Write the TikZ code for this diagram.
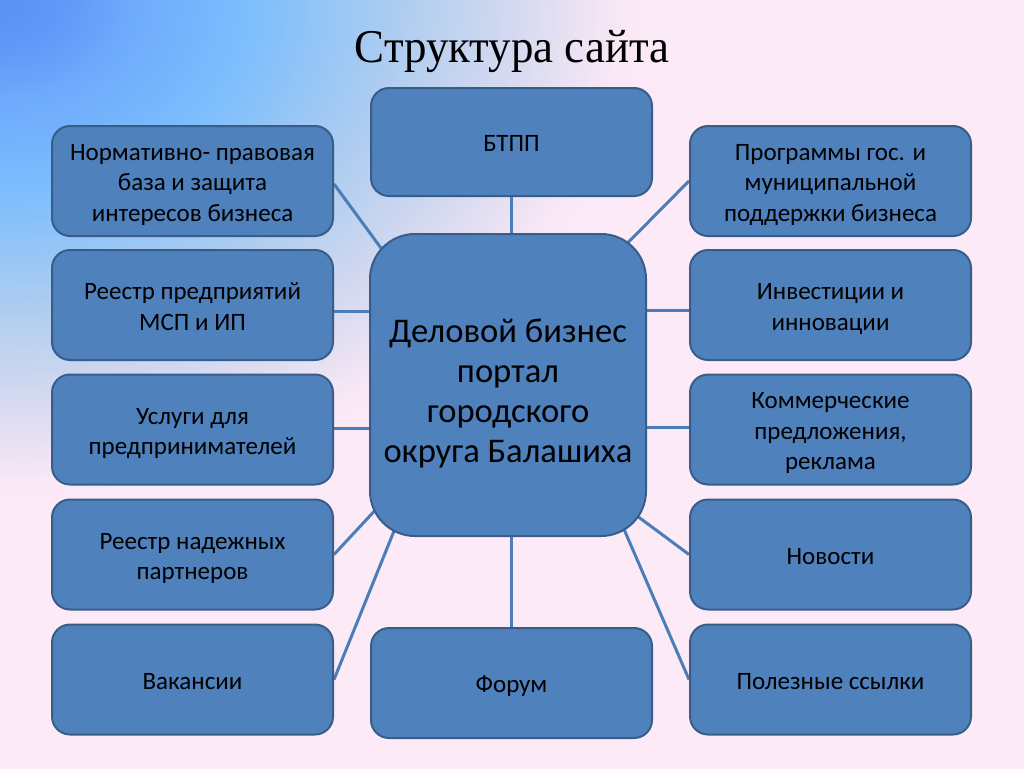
\documentclass[tikz,border=0pt]{standalone}
\usepackage{fontspec}
\setmainfont{Carlito}
\newfontfamily\titlefont{Liberation Serif}
\newcommand{\tstrut}{\rule{0pt}{26pt}}
\newcommand{\hstrut}{\rule{0pt}{43pt}}
\definecolor{boxfill}{RGB}{79,129,189}
\definecolor{boxline}{RGB}{56,93,138}
\definecolor{linkc}{RGB}{74,126,187}
\definecolor{bgpink}{RGB}{253,234,247}
\definecolor{bgA}{RGB}{90,145,245}
\definecolor{bgB}{RGB}{95,152,248}
\definecolor{bgC}{RGB}{110,170,252}
\definecolor{bgD}{RGB}{125,190,253}
\definecolor{bgE}{RGB}{175,205,240}
\definecolor{bgF}{RGB}{215,218,240}
\definecolor{bgG}{RGB}{250,232,246}
\pgfdeclareradialshading{bgshade}{\pgfpoint{0bp}{0bp}}{color(0bp)=(bgA); color(60bp)=(bgB); color(130bp)=(bgC); color(250bp)=(bgD); color(400bp)=(bgE); color(520bp)=(bgF); color(620bp)=(bgG); color(680bp)=(bgpink); color(1500bp)=(bgpink)}
\pgfdeclarelayer{bg}
\pgfdeclarelayer{lines}
\pgfsetlayers{bg,lines,main}
\begin{document}
\begin{tikzpicture}[x=1pt,y=-1pt,
  box/.style={draw=boxline, line width=2pt, fill=boxfill, rounded corners=18pt,
    minimum width=281pt, minimum height=110pt, inner sep=0pt, align=center,
    font=\fontsize{25}{30.5}\selectfont, text=black,
    execute at end node={\rule[-6.5pt]{0pt}{6.5pt}}},
  hub/.style={draw=boxline, line width=2pt, fill=boxfill, rounded corners=45pt,
    minimum width=276pt, minimum height=302pt, inner sep=0pt, align=center,
    font=\fontsize{34.6}{40}\selectfont, text=black,
    execute at end node={\rule[-9pt]{0pt}{9pt}}},
  link/.style={draw=linkc, line width=3pt}]
\useasboundingbox (0,0) rectangle (1024,768);
\begin{pgfonlayer}{bg}
\begin{scope}
\clip (0,0) rectangle (1024,768);
\fill[bgpink] (0,0) rectangle (1024,768);
\pgftransformyscale{0.774}
\pgflowlevelsynccm
\pgfuseshading{bgshade}
\end{scope}
\end{pgfonlayer}

\node[anchor=base, xscale=0.955, font=\titlefont\fontsize{47}{56}\selectfont] (title) at (512,63) {Структура сайта};

\node[hub] (C) at (508,385) {\hstrut Деловой бизнес\\портал\\городского\\округа Балашиха};
\node[box, minimum height=108pt] (B) at (511.5,142) {\tstrut БТПП};
\node[box] (F) at (511.5,683) {\tstrut Форум};

\node[box] (L1) at (192.5,181) {\tstrut Нормативно- правовая\\база и защита\\интересов бизнеса};
\node[box] (L2) at (192.5,305) {\tstrut Реестр предприятий\\МСП и ИП};
\node[box] (L3) at (192.5,429.5) {\tstrut Услуги для\\предпринимателей};
\node[box] (L4) at (192.5,554.5) {\tstrut Реестр надежных\\партнеров};
\node[box] (L5) at (192.5,679.5) {\tstrut Вакансии};

\node[box] (R1) at (830.5,181) {\tstrut Программы гос. и\\муниципальной\\поддержки бизнеса};
\node[box] (R2) at (830.5,305) {\tstrut Инвестиции и\\инновации};
\node[box] (R3) at (830.5,429.5) {\tstrut Коммерческие\\предложения,\\реклама};
\node[box] (R4) at (830.5,554.5) {\tstrut Новости};
\node[box] (R5) at (830.5,679.5) {\tstrut Полезные ссылки};

\coordinate (cL1) at (433,319);
\coordinate (cL4) at (413,469.5);
\coordinate (cL5) at (411,489);
\coordinate (cR1) at (578,293);
\coordinate (cR4) at (588,479.5);
\coordinate (cR5) at (605.5,486.5);

\begin{pgfonlayer}{lines}
\draw[link] (B.south) -- (B.south |- C.north);
\draw[link] (F.north) -- (F.north |- C.south);
\draw[link] ([yshift=-3pt]L1.east) -- (cL1);
\draw[link] ([yshift=-6pt]L2.east) -- ([yshift=-6pt]L2.east -| C.west);
\draw[link] ([yshift=1pt]L3.east) -- ([yshift=1pt]L3.east -| C.west);
\draw[link] (L4.east) -- (cL4);
\draw[link] (L5.east) -- (cL5);
\draw[link] (R1.west) -- (cR1);
\draw[link] ([yshift=-5pt]R2.west) -- ([yshift=-5pt]R2.west -| C.east);
\draw[link] ([yshift=2pt]R3.west) -- ([yshift=2pt]R3.west -| C.east);
\draw[link] (R4.west) -- (cR4);
\draw[link] (R5.west) -- (cR5);
\end{pgfonlayer}
\end{tikzpicture}
\end{document}
